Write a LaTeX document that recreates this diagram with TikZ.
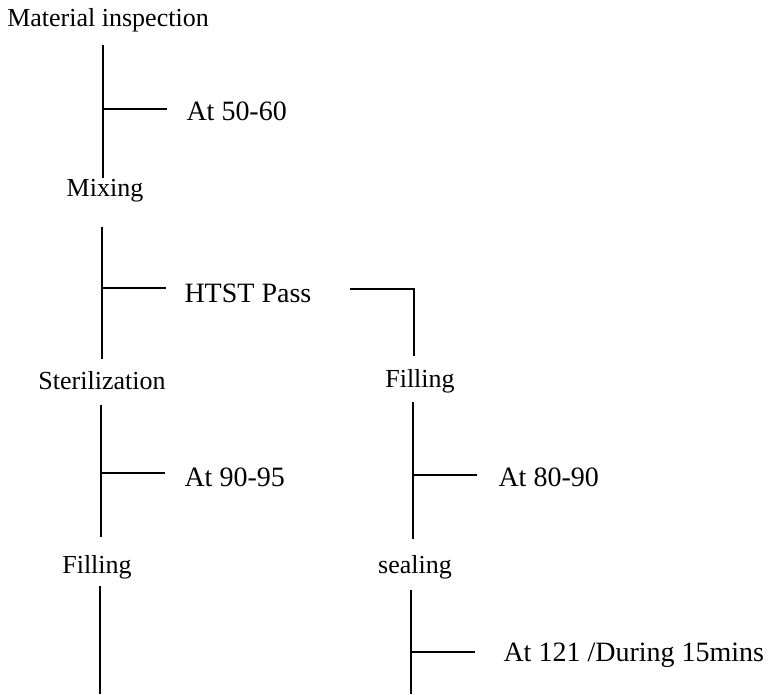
\documentclass[tikz,border=0pt]{standalone}
\usepackage{fontspec}
\setmainfont{Liberation Serif}
\tikzset{every picture/.style={line width=0.75pt}}
\tikzset{
stepname/.style={inner sep=0.75pt, font=\fontsize{19.5}{22}\selectfont},
condname/.style={anchor=west, inner sep=0.75pt, font=\fontsize{21}{24}\selectfont},
flowline/.style={line width=0.9pt}}

\begin{document}
\begin{tikzpicture}[x=0.75pt,y=0.75pt,yscale=-1,xscale=1]
\useasboundingbox (0,0) rectangle (769,694);

% Text Node
\node (mat) at (108,20) [stepname] {Material inspection};
% Text Node
\node (mix) at (105,191) [stepname] {Mixing};
% Text Node
\node (ster) at (102,381) [stepname] {Sterilization};
% Text Node
\node (fillL) at (97,567) [stepname] {Filling};
% Text Node
\node (fillR) at (420,381) [stepname] {Filling};
% Text Node
\node (seal) at (415,567) [stepname] {sealing};
% Text Node
\node (c1) at (185,111) [condname] {At 50-60};
% Text Node
\node (htst) at (183,293) [condname] {HTST Pass};
% Text Node
\node (c2) at (183,477) [condname] {At 90-95};
% Text Node
\node (c3) at (497,477) [condname] {At 80-90};
% Text Node
\node (c4) at (502,655) [condname] {At 121 /During 15mins};

%Straight Lines
\coordinate (a1) at (103,45);
\coordinate (a2) at (103,178);
\coordinate (j1) at (103,109);
\coordinate (k1) at (167,109);
\draw [flowline] (a1) -- (a2);
\draw [flowline] (j1) -- (k1);

%Straight Lines
\coordinate (b1) at (102,227);
\coordinate (b2) at (102,359);
\coordinate (j2) at (102,288);
\coordinate (k2) at (166,288);
\draw [flowline] (b1) -- (b2);
\draw [flowline] (j2) -- (k2);
\coordinate (h1) at (350,289);
\coordinate (h2) at (414,289);
\coordinate (h3) at (414,356);
\draw [flowline] (h1) -- (h2) -- (h3);

%Straight Lines
\coordinate (d1) at (101,405);
\coordinate (d2) at (101,537);
\coordinate (j3) at (101,473);
\coordinate (k3) at (165,473);
\draw [flowline] (d1) -- (d2);
\draw [flowline] (j3) -- (k3);
\coordinate (e1) at (413,402);
\coordinate (e2) at (413,539);
\coordinate (j4) at (413,475);
\coordinate (k4) at (477,475);
\draw [flowline] (e1) -- (e2);
\draw [flowline] (j4) -- (k4);

%Straight Lines
\coordinate (f1) at (100,586);
\coordinate (f2) at (100,694);
\draw [flowline] (f1) -- (f2);
\coordinate (g1) at (411,590);
\coordinate (g2) at (411,694);
\coordinate (j5) at (411,652);
\coordinate (k5) at (475,652);
\draw [flowline] (g1) -- (g2);
\draw [flowline] (j5) -- (k5);

\end{tikzpicture}
\end{document}
